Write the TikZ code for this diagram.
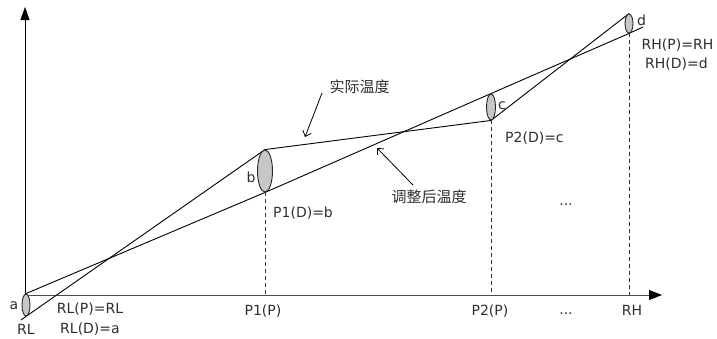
\documentclass[tikz,border=0pt]{standalone}
\usepackage{fontspec}
\setmainfont{DejaVu Sans}
\newfontfamily\cjk{Noto Sans CJK SC}
\usetikzlibrary{shapes.geometric,arrows.meta}
\pgfdeclarelayer{background}
\pgfsetlayers{background,main}
\begin{document}
\begin{tikzpicture}[x=1pt,y=-1pt,
  rng/.style={ellipse,draw=black!85,fill=black!22,line width=0.9pt,inner sep=0pt},
  lbl/.style={text=black!82,font=\fontsize{14}{16}\selectfont,inner sep=0pt},
  cjklbl/.style={text=black!82,font=\cjk\fontsize{15}{17}\selectfont,inner sep=0pt},
  tline/.style={line width=0.9pt,black},
  axisline/.style={line width=0.9pt},
  guide/.style={line width=0.9pt,black!80,dash pattern=on 4pt off 3pt},
  callout/.style={line width=0.8pt,-{Straight Barb[length=5pt,width=9pt]}}]
\useasboundingbox (0,0) rectangle (717,338);

% range ellipses
\node[rng,minimum width=8pt,minimum height=22pt] (a) at (26,305) {};
\node[rng,minimum width=15pt,minimum height=42pt] (b) at (265,171) {};
\node[rng,minimum width=9pt,minimum height=26pt] (c) at (491,107) {};
\node[rng,minimum width=8pt,minimum height=19pt] (d) at (629,23.5) {};

% axes points
\coordinate (O) at (25,295);
\coordinate (xend) at (662,295);
\coordinate (yend) at (25,7);
\coordinate (e1) at (21,320);
\coordinate (e2) at (643,27);

\begin{pgfonlayer}{background}
  \draw[axisline,black!70,-{Triangle[length=13pt,width=10pt,color=black,fill=black]}] (O) -- (xend);
  \draw[axisline,black,-{Triangle[length=13pt,width=9pt]}] (O) -- (yend);
  % actual temperature
  \draw[tline] (e1) -- (a.south) -- (b.north) -- (c.south) -- (d.north);
  % adjusted temperature
  \draw[tline] (a.north) -- (b.south) -- (c.north) -- (d.south) -- (e2);
  % guides
  \draw[guide] (b.south) -- (b.south |- O);
  \draw[guide] (c.south) -- (c.south |- O);
  \draw[guide] (d.south) -- (d.south |- O);
\end{pgfonlayer}

% labels
\node[lbl,anchor=base] (la) at (14,309) {a};
\node[lbl,anchor=base] (lrl) at (26,334) {RL};
\node[lbl,anchor=base] (lrlp) at (90,313) {RL(P)=RL};
\node[lbl,anchor=base] (lrld) at (90,333) {RL(D)=a};
\node[lbl,anchor=base] (lb) at (251,182) {b};
\node[lbl,anchor=base west] (lp1d) at (273,217) {P1(D)=b};
\node[lbl,anchor=base west] (lc) at (498,109) {c};
\node[lbl,anchor=base west] (lp2d) at (505,142) {P2(D)=c};
\node[lbl,anchor=base west] (ld) at (637,25) {d};
\node[lbl,anchor=base] (lrhp) at (677.5,49) {RH(P)=RH};
\node[lbl,anchor=base] (lrhd) at (676.5,68) {RH(D)=d};
\node[lbl,anchor=base] (lp1p) at (263,315) {P1(P)};
\node[lbl,anchor=base] (lp2p) at (490,315) {P2(P)};
\node[lbl,anchor=base] (ldots1) at (566,314) {...};
\node[lbl,anchor=base] (lrh) at (632,315) {RH};
\node[lbl,anchor=base] (ldots2) at (566,205) {...};

\node[cjklbl] (lact) at (359.5,87) {实际温度};
\node[cjklbl] (ladj) at (429,196.5) {调整后温度};

\coordinate (s1) at (322,93);
\coordinate (t1) at (305,137);
\coordinate (s2) at (413,185);
\coordinate (t2) at (377,148);
\draw[callout] (s1) -- (t1);
\draw[callout] (s2) -- (t2);
\end{tikzpicture}
\end{document}
